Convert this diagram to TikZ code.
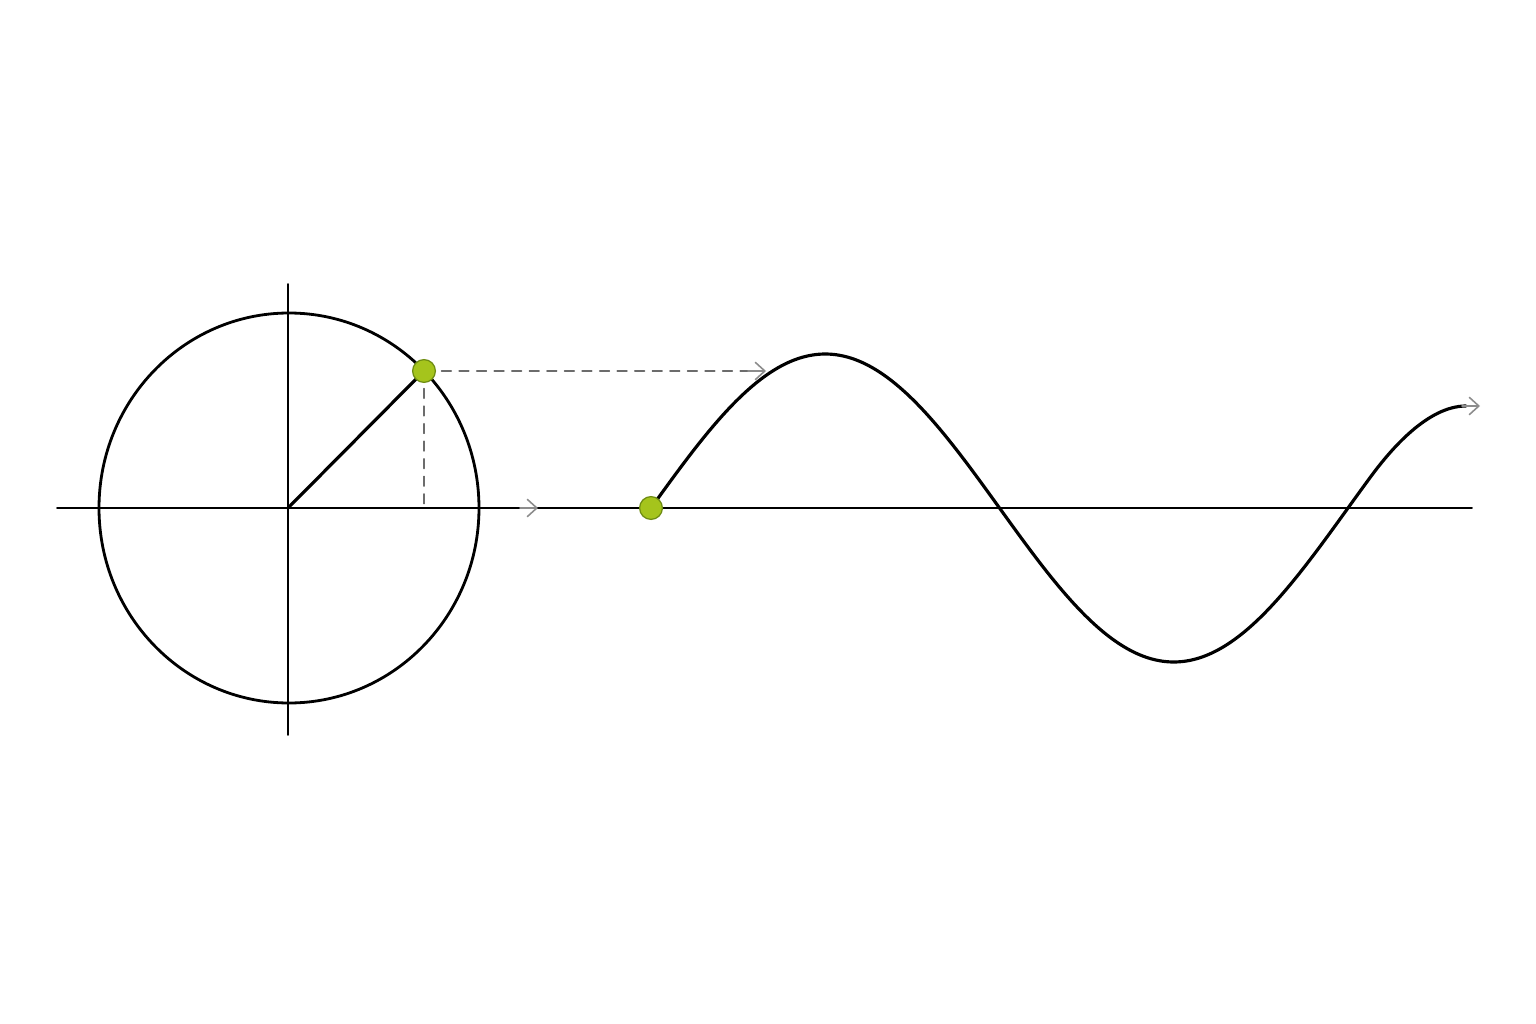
\documentclass[tikz,border=0pt]{standalone}
\usepackage{tikz}
\usetikzlibrary{arrows.meta}
\definecolor{dotfill}{HTML}{A5C41C}
\definecolor{dotline}{HTML}{6E8C12}

\begin{document}
\begin{tikzpicture}[x=0.02cm,y=-0.02cm,line cap=round]
		\tikzstyle{every dot}=[circle,draw=dotline,line width=0.7pt,fill=dotfill,minimum size=13pt,inner sep=0pt]
		\tikzstyle{axis}=[black,line width=1.1pt]
		\tikzstyle{guide}=[gray!85!black,line width=0.9pt,dash pattern=on 5.5pt off 4.5pt]
		\tikzstyle{tip}=[gray!90,line width=0.9pt,-{Straight Barb[length=5.5pt,width=10pt]}]

		\useasboundingbox (0,0) rectangle (1536,1024);

		% circle and its axes
		\coordinate (O) at (289,508);
		\coordinate (P) at (424,371);
		\coordinate (F) at (424,508);
		\draw[axis] (57,508) -- (1472,508);
		\draw[axis] (288,284) -- (288,735);
		\draw[black,line width=1.6pt] (O) ellipse [x radius=190,y radius=195];
		\draw[black,line width=1.8pt] (288,508) -- (P);

		% projections
		\draw[guide] (P) -- (F);
		\draw[guide] (P) -- (760,371);
		\draw[tip] (748,371) -- (766,371);
		\draw[tip] (520,508) -- (538,508);

		% the wave
		\draw[black,line width=1.8pt] plot[domain=651:1370,samples=150,smooth] (\x,{508-154*sin(0.5165*(\x-651))})
			.. controls (1391,449) and (1428,406) .. (1466,406);
		\draw[tip] (1462,406) -- (1480,406);

		\node[every dot] (dot_p) at (P) {};
		\node[every dot] (dot_w) at (651,508) {};
	\end{tikzpicture}
\end{document}
